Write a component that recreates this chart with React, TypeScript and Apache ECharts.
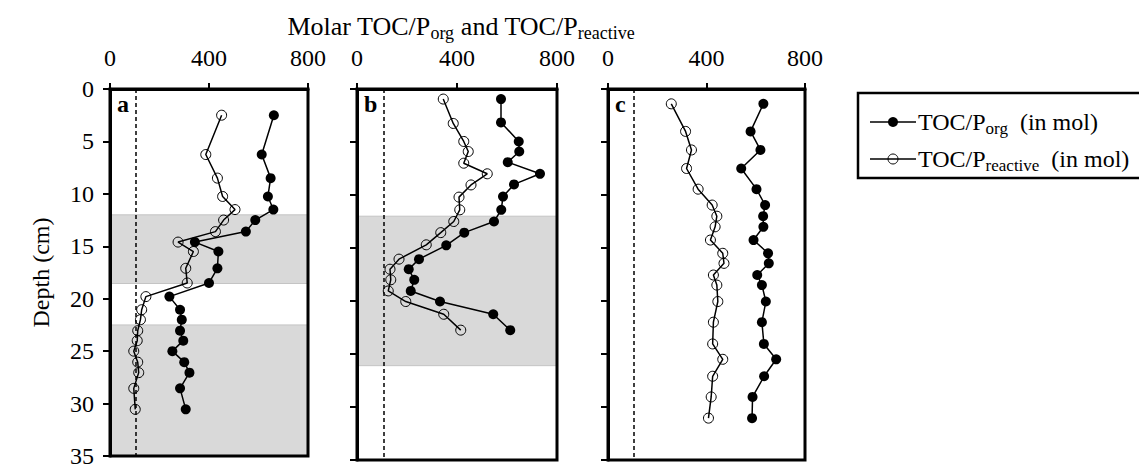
import React, { useEffect, useRef } from "react";
import * as echarts from "echarts";

// Depth (cm) and molar ratios, core a
const depthA = [2.5, 6.25, 8.5, 10.25, 11.5, 12.5, 13.6, 14.6, 15.5, 17.1, 18.5, 19.8, 21.05, 22.0, 23.05, 24.0, 25.0, 26.05, 27.05, 28.55, 30.55];
const orgA = [662, 613, 649, 638, 660, 587, 549, 343, 438, 434, 400, 240, 283, 290, 283, 296, 252, 300, 321, 283, 306];
const reactiveA = [451, 387, 434, 455, 505, 459, 426, 275, 337, 306, 312, 145, 128, 123, 112, 110, 96, 112, 116, 96, 102];

// Core b
const depthOrgB = [0.95, 3.15, 4.95, 5.9, 6.9, 8.0, 9.0, 10.15, 11.4, 12.5, 13.55, 14.75, 16.05, 17.0, 18.0, 19.05, 20.05, 21.25, 22.75];
const orgB = [576, 576, 647, 649, 603, 732, 628, 584, 577, 548, 429, 357, 248, 207, 229, 215, 332, 545, 613];
const depthReactiveB = [0.95, 3.25, 4.95, 5.9, 7.0, 8.0, 9.05, 10.2, 11.4, 12.5, 13.55, 14.7, 16.05, 17.0, 18.0, 19.05, 20.05, 21.25, 22.75];
const reactiveB = [345, 385, 427, 445, 427, 521, 456, 408, 411, 387, 335, 277, 168, 132, 135, 125, 195, 347, 415];

// Core c
const depthC = [1.4, 4.0, 5.75, 7.5, 9.45, 10.95, 12.0, 13.0, 14.25, 15.5, 16.45, 17.55, 18.5, 20.05, 22.0, 24.05, 25.5, 27.1, 29.05, 31.05];
const orgC = [631, 579, 619, 541, 603, 638, 630, 631, 591, 650, 653, 606, 625, 641, 625, 633, 683, 634, 587, 585];
const reactiveC = [257, 315, 339, 319, 366, 423, 442, 435, 416, 466, 471, 428, 442, 446, 428, 425, 466, 425, 419, 408];

// Shaded depth intervals per core
const bandsA: [number, number][] = [[12, 18.55], [22.5, 35]];
const bandsB: [number, number][] = [[12, 26.1]];
const bandsC: [number, number][] = [];

// Redfield C:P ratio
const redfield = 106;

const panelLetters = ["a", "b", "c"];
const xTicks = { min: 0, max: 800, interval: 400 };
const yTicks = { min: 0, max: 35, interval: 5 };

const serif = "'Liberation Serif', 'Times New Roman', serif";
const FS = 24;
const SUB = 17;

const pair = (xs: number[], ys: number[]) => xs.map((x, i) => [x, ys[i]]);

const grids = [
  { left: 110, top: 89, width: 198, height: 371 },
  { left: 357, top: 89, width: 200, height: 371 },
  { left: 608, top: 89, width: 197, height: 371 },
];

export default function App() {
  const ref = useRef<HTMLDivElement>(null);

  useEffect(() => {
    if (!ref.current) return;
    const chart = echarts.init(ref.current, undefined, { renderer: "svg" });

    const panels = [
      { org: pair(orgA, depthA), reactive: pair(reactiveA, depthA), bands: bandsA },
      { org: pair(orgB, depthOrgB), reactive: pair(reactiveB, depthReactiveB), bands: bandsB },
      { org: pair(orgC, depthC), reactive: pair(reactiveC, depthC), bands: bandsC },
    ];

    const series: any[] = [];
    panels.forEach((p, i) => {
      series.push({
        type: "line",
        xAxisIndex: i,
        yAxisIndex: i,
        data: p.reactive,
        symbol: "circle",
        symbolSize: 10,
        itemStyle: { color: "rgba(0,0,0,0)", borderColor: "#000", borderWidth: 1 },
        lineStyle: { color: "#000", width: 1.5 },
        markLine: {
          silent: true,
          symbol: ["none", "none"],
          label: { show: false },
          lineStyle: { color: "#000", type: [4, 3], width: 1.5 },
          data: [{ xAxis: redfield }],
        },
        markArea: {
          silent: true,
          itemStyle: { color: "#d9d9d9", borderColor: "#c4c4c4", borderWidth: 1 },
          data: p.bands.map(([a, b]) => [
            { xAxis: xTicks.min, yAxis: a },
            { xAxis: xTicks.max, yAxis: b },
          ]),
        },
      });
      series.push({
        type: "line",
        xAxisIndex: i,
        yAxisIndex: i,
        data: p.org,
        symbol: "circle",
        symbolSize: 10,
        itemStyle: { color: "#000" },
        lineStyle: { color: "#000", width: 1.5 },
      });
    });

    const richText = (main: number, sub: number) => ({
      m: { fontSize: main, fontFamily: serif, fill: "#000", lineHeight: main + 6 },
      s: { fontSize: sub, fontFamily: serif, fill: "#000", lineHeight: sub - 4, verticalAlign: "bottom" },
    });

    const graphic: any[] = [
      {
        type: "text",
        x: 461,
        y: 26,
        style: {
          text: "{m|Molar TOC/P}{s|org}{m| and TOC/P}{s|reactive}",
          rich: richText(26, 18),
          align: "center",
          verticalAlign: "middle",
        },
      },
      ...grids.map((g, i) => ({
        type: "text",
        x: g.left + 7,
        y: g.top + 3,
        z: 20,
        style: {
          text: panelLetters[i],
          fontFamily: serif,
          fontSize: FS,
          fontWeight: "bold",
          fill: "#000",
          align: "left",
          verticalAlign: "top",
        },
      })),
      {
        type: "rect",
        shape: { x: 858, y: 93, width: 320, height: 85 },
        style: { fill: "none", stroke: "#000", lineWidth: 2.5 },
      },
      { type: "line", shape: { x1: 870, y1: 122, x2: 916, y2: 122 }, style: { stroke: "#000", lineWidth: 1.5 } },
      { type: "circle", shape: { cx: 893, cy: 122, r: 5 }, style: { fill: "#000" } },
      {
        type: "text",
        x: 918,
        y: 122,
        style: {
          text: "{m|TOC/P}{s|org}{m|  (in mol)}",
          rich: richText(FS, SUB),
          align: "left",
          verticalAlign: "middle",
        },
      },
      { type: "line", shape: { x1: 870, y1: 159, x2: 916, y2: 159 }, style: { stroke: "#000", lineWidth: 1.5 } },
      { type: "circle", shape: { cx: 893, cy: 159, r: 5 }, style: { fill: "none", stroke: "#000", lineWidth: 1 } },
      {
        type: "text",
        x: 918,
        y: 159,
        style: {
          text: "{m|TOC/P}{s|reactive}{m|  (in mol)}",
          rich: richText(FS, SUB),
          align: "left",
          verticalAlign: "middle",
        },
      },
    ];

    chart.setOption({
      animation: false,
      backgroundColor: "#fff",
      textStyle: { fontFamily: serif, color: "#000" },
      grid: grids.map((g) => ({ ...g, show: true, borderColor: "#000", borderWidth: 3, z: 10 })),
      xAxis: grids.map((_, i) => ({
        type: "value",
        gridIndex: i,
        position: "top",
        ...xTicks,
        z: 10,
        axisLine: { show: true, onZero: false, lineStyle: { color: "#000", width: 3 } },
        axisTick: { show: true, inside: false, length: 6, lineStyle: { color: "#000", width: 2 } },
        axisLabel: { show: true, color: "#000", fontSize: FS, fontFamily: serif, margin: 19 },
        splitLine: { show: false },
      })),
      yAxis: grids.map((_, i) => ({
        type: "value",
        gridIndex: i,
        inverse: true,
        ...yTicks,
        z: 10,
        name: i === 0 ? "Depth (cm)" : "",
        nameLocation: "middle",
        nameGap: 57,
        nameRotate: 90,
        nameTextStyle: { color: "#000", fontSize: FS, fontFamily: serif },
        axisLine: { show: true, onZero: false, lineStyle: { color: "#000", width: 3 } },
        axisTick: { show: true, inside: false, length: 7, lineStyle: { color: "#000", width: 2 } },
        axisLabel: { show: i === 0, color: "#000", fontSize: FS, fontFamily: serif, margin: 16 },
        splitLine: { show: false },
      })),
      series,
      graphic,
    });

    return () => chart.dispose();
  }, []);

  return (
    <div
      ref={ref}
      style={{ position: "absolute", left: 0, top: 0, width: 1139, height: 468 }}
    />
  );
}
